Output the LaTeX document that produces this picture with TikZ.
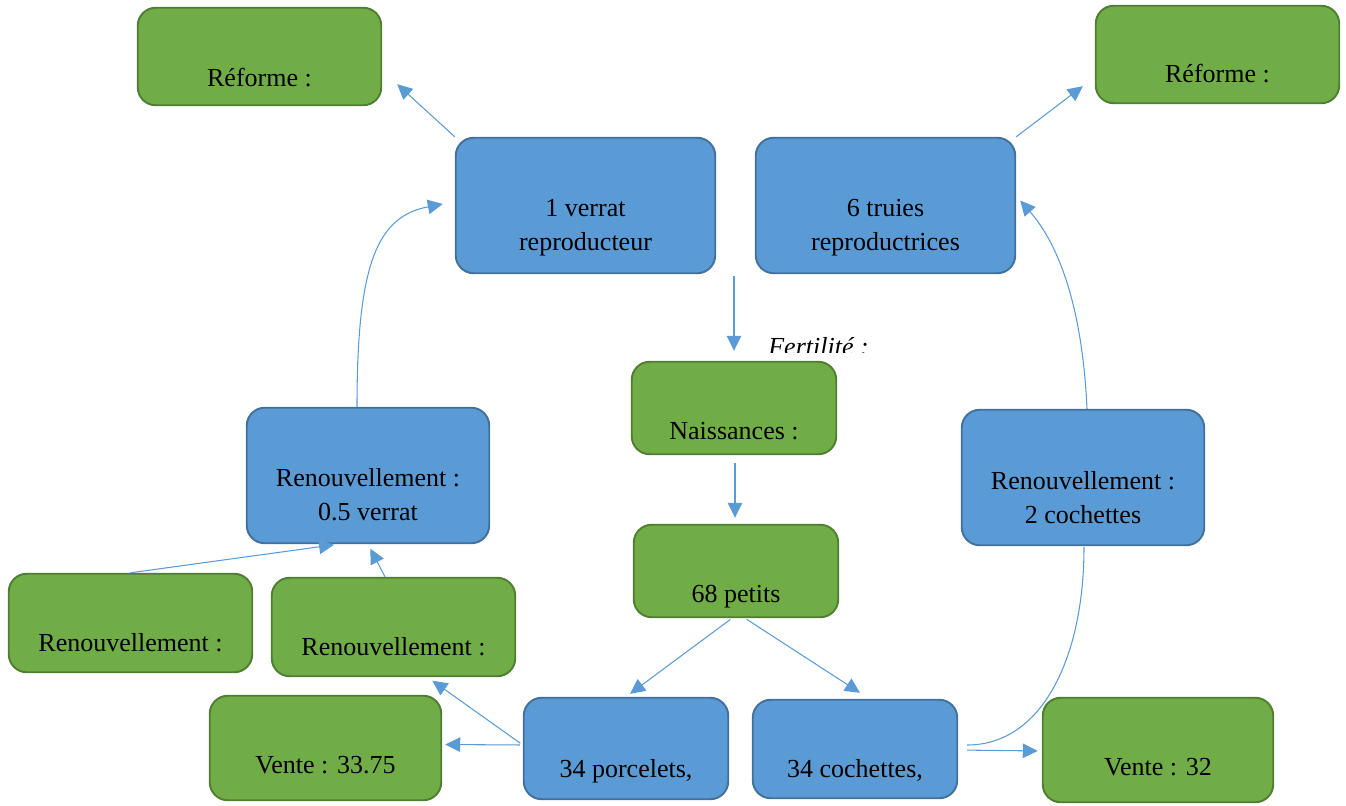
\documentclass[tikz,border=0pt]{standalone}
\usepackage{fontspec}
\setmainfont{Liberation Serif}
\usetikzlibrary{arrows.meta}
\definecolor{cycleblue}{RGB}{91,155,213}
\definecolor{cyclebluedraw}{RGB}{65,113,156}
\definecolor{cyclegreen}{RGB}{112,173,71}
\definecolor{cyclegreendraw}{RGB}{80,126,50}

\begin{document}
\begin{tikzpicture}[>={Triangle[length=3mm,width=2.9mm]},line join=round,
 box/.style={draw,line width=1.1pt,rounded corners=3.6mm,inner sep=0pt},
 bluebox/.style={box,fill=cycleblue,draw=cyclebluedraw},
 greenbox/.style={box,fill=cyclegreen,draw=cyclegreendraw},
 flow/.style={->,cycleblue,line width=0.6pt},
 lbl/.style={font=\fontsize{14.8}{19.4}\selectfont,align=center,inner sep=0pt}]
 \useasboundingbox (0,0) rectangle (26.92,-16.1);
 % boxes
 \node[greenbox,minimum width=4.87cm,minimum height=1.95cm] (refL) at (5.19,-1.13) {};
 \node[greenbox,minimum width=4.87cm,minimum height=1.95cm] (refR) at (24.35,-1.09) {};
 \node[bluebox,minimum width=5.19cm,minimum height=2.71cm] (verrat) at (11.71,-4.11) {};
 \node[bluebox,minimum width=5.19cm,minimum height=2.71cm] (truies) at (17.71,-4.11) {};
 \node[greenbox,minimum width=4.09cm,minimum height=1.85cm] (naiss) at (14.68,-8.16) {};
 \node[greenbox,minimum width=4.09cm,minimum height=1.85cm] (petits) at (14.72,-11.42) {};
 \node[bluebox,minimum width=4.85cm,minimum height=2.71cm] (renV) at (7.36,-9.51) {};
 \node[bluebox,minimum width=4.85cm,minimum height=2.71cm] (renC) at (21.66,-9.55) {};
 \node[greenbox,minimum width=4.87cm,minimum height=1.97cm] (renA) at (2.61,-12.46) {};
 \node[greenbox,minimum width=4.87cm,minimum height=1.97cm] (renB) at (7.87,-12.54) {};
 \node[greenbox,minimum width=4.63cm,minimum height=2.09cm] (vente1) at (6.51,-14.96) {};
 \node[bluebox,minimum width=4.09cm,minimum height=2.03cm] (porc) at (12.52,-14.97) {};
 \node[bluebox,minimum width=4.09cm,minimum height=1.97cm] (coch) at (17.10,-14.98) {};
 \node[greenbox,minimum width=4.61cm,minimum height=2.09cm] (vente2) at (23.16,-15.00) {};
 % texts
 \node[lbl,anchor=base] (refLt) at ([yshift=-5.9mm]refL.center) {Réforme :};
 \node[lbl,anchor=base] (refRt) at ([yshift=-5.5mm]refR.center) {Réforme :};
 \node[lbl] (verratt) at ([yshift=-4.5mm]verrat.center) {1 verrat\\reproducteur};
 \node[lbl] (truiest) at ([yshift=-4.5mm]truies.center) {6 truies\\reproductrices};
 \node[lbl,anchor=base] (naisst) at ([yshift=-6.2mm]naiss.center) {Naissances :};
 \node[lbl,anchor=base] (petitst) at ([yshift=-6.2mm]petits.center) {68 petits};
 \node[lbl] (renVt) at ([yshift=-3.9mm]renV.center) {Renouvellement :\\0.5 verrat};
 \node[lbl] (renCt) at ([yshift=-4mm]renC.center) {Renouvellement :\\2 cochettes};
 \node[lbl,anchor=base] (renAt) at ([yshift=-5.6mm]renA.center) {Renouvellement :};
 \node[lbl,anchor=base] (renBt) at ([yshift=-5.6mm]renB.center) {Renouvellement :};
 \node[lbl,anchor=base] (vente1t) at ([yshift=-5mm]vente1.center) {Vente : 33.75};
 \node[lbl,anchor=base] (porct) at ([yshift=-5.7mm]porc.center) {34 porcelets,};
 \node[lbl,anchor=base] (cocht) at ([yshift=-5.6mm]coch.center) {34 cochettes,};
 \node[lbl,anchor=base] (vente2t) at ([yshift=-5mm]vente2.center) {Vente : 32};
 \begin{scope}
  \clip (15,-6.6) rectangle (18,-7.04);
  \node[lbl,anchor=base west,font=\fontsize{14.8}{19.4}\selectfont\itshape] (fert) at (15.36,-7.1) {Fertilité :};
 \end{scope}
 % arrows
 \draw[flow] (verrat.north west) -- ([xshift=3mm,yshift=4.4mm]refL.south east);
 \draw[flow] (truies.north east) -- ([xshift=-2.4mm,yshift=3.6mm]refR.south west);
 \draw[flow,shorten <=0.4mm,shorten >=2mm] (verrat.south -| naiss.north) -- (naiss.north);
 \draw[flow,shorten <=1.6mm,shorten >=1.2mm] ([xshift=0.2mm]naiss.south) -- ([xshift=0.2mm]naiss.south |- petits.north);
 \draw[flow,shorten <=0.4mm,shorten >=1mm] ([xshift=-0.8mm]petits.south) -- (porc.north);
 \draw[flow,shorten <=0.4mm] ([xshift=1.8mm]petits.south) -- ([xshift=1mm,yshift=1.2mm]coch.north);
 \draw[flow,shorten <=0.6mm,shorten >=0.6mm] ([yshift=0.7mm]porc.west) -- ([yshift=0.7mm]vente1.east);
 \draw[flow,shorten <=0.6mm,shorten >=1.2mm] ([yshift=0.7mm]porc.west) -- ([xshift=6.8mm]renB.south);
 \draw[flow,shorten >=0.8mm] (renA.north) -- ([xshift=-6mm]renV.south);
 \draw[flow,shorten >=1mm] ([xshift=-1.7mm]renB.north) -- (renV.south);
 \draw[flow] ([xshift=-2.2mm]renV.north) .. controls +(0,2.9) and +(-1.3,-0.25) .. ([xshift=-2.4mm,yshift=0.3mm]verrat.west);
 \draw[flow] ([xshift=0.8mm]renC.north) .. controls +(-0.1,2.2) and +(0.7,-0.8) .. ([xshift=0.8mm,yshift=1mm]truies.east);
 \draw[cycleblue,line width=0.6pt] ([xshift=1.8mm,yshift=0.8mm]coch.east) .. controls +(1.5,0) and +(0,-2.2) .. ([xshift=0.2mm,yshift=-0.2mm]renC.south);
 \draw[flow,shorten <=1.8mm,shorten >=0.8mm] ([yshift=-0.2mm]coch.east) -- ([yshift=-0.2mm]vente2.west);
\end{tikzpicture}
\end{document}
